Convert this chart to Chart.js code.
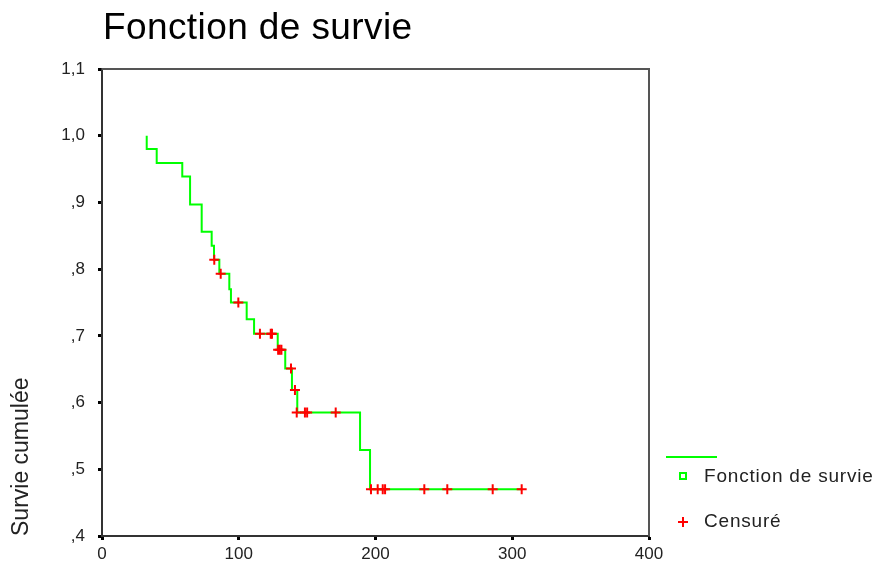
<!DOCTYPE html>
<html>
<head>
  <title>Fonction de survie</title>
  <script src="https://cdn.jsdelivr.net/npm/chart.js"></script>
  <style>
    body { margin: 0; overflow: hidden; background: #fff; }
    canvas { display: block; }
  </style>
</head>
<body>
  <canvas id="survie" width="879" height="565"></canvas>

  <script>
    // courbe de Kaplan-Meier (temps, survie cumulée)
    const curveTimes = [32.7, 32.7, 40.0, 58.7, 64.4, 72.9, 80.2, 81.9, 85.8, 93.1, 94.3, 105.8, 111.2, 128.5, 134.0, 138.9, 142.8, 188.7, 196.0, 306.9];
    const curveSurvival = [1.0, 0.980, 0.959, 0.939, 0.897, 0.856, 0.835, 0.814, 0.793, 0.770, 0.750, 0.725, 0.703, 0.679, 0.651, 0.619, 0.585, 0.529, 0.470, 0.470];

    // observations censurées
    const censorTimes = [82.1, 86.8, 99.7, 115.5, 123.4, 124.3, 128.8, 130.0, 131.2, 138.2, 141.1, 142.4, 148.4, 150.0, 170.9, 196.7, 201.6, 205.3, 207.0, 235.7, 252.5, 285.7, 306.9];
    const censorSurvival = [0.814, 0.793, 0.750, 0.703, 0.703, 0.703, 0.679, 0.679, 0.679, 0.651, 0.619, 0.585, 0.585, 0.585, 0.585, 0.470, 0.470, 0.470, 0.470, 0.470, 0.470, 0.470, 0.470];

    const labels = ['Fonction de survie', 'Censuré'];
    const titleText = 'Fonction de survie';
    const yTitle = 'Survie cumulée';

    const FONT = "'Liberation Sans', Arial, sans-serif";
    const GREEN = '#00ff00';
    const RED = '#ff0000';

    // titre, cadre et légende façon SPSS
    const decor = {
      id: 'decor',
      beforeDatasetsDraw(chart) {
        const { ctx, chartArea: a } = chart;
        ctx.save();
        ctx.strokeStyle = '#555';
        ctx.lineWidth = 2;
        ctx.beginPath();
        ctx.moveTo(a.left, a.top);
        ctx.lineTo(a.right, a.top);
        ctx.lineTo(a.right, a.bottom);
        ctx.stroke();
        ctx.restore();
      },
      afterDraw(chart) {
        const { ctx, chartArea: a } = chart;
        ctx.save();
        ctx.fillStyle = '#000';
        ctx.font = '37px ' + FONT;
        ctx.letterSpacing = '0.4px';
        ctx.textBaseline = 'alphabetic';
        ctx.textAlign = 'left';
        ctx.fillText(titleText, a.left + 1, 39);

        // légende
        ctx.strokeStyle = GREEN;
        ctx.lineWidth = 2;
        ctx.beginPath();
        ctx.moveTo(666, 457);
        ctx.lineTo(717, 457);
        ctx.stroke();
        ctx.strokeRect(680, 473, 6, 6);

        ctx.strokeStyle = RED;
        ctx.beginPath();
        ctx.moveTo(678, 522); ctx.lineTo(688, 522);
        ctx.moveTo(683, 517); ctx.lineTo(683, 527);
        ctx.stroke();

        ctx.fillStyle = '#222';
        ctx.font = '19px ' + FONT;
        ctx.letterSpacing = '0.8px';
        ctx.textBaseline = 'middle';
        ctx.fillText(labels[0], 704, 477);
        ctx.fillText(labels[1], 704, 522);
        ctx.restore();
      }
    };

    const fmt = v => {
      const r = Math.round(v * 10);
      return r >= 10 ? (r / 10).toFixed(1).replace('.', ',') : ',' + r;
    };

    new Chart(document.getElementById('survie'), {
      type: 'scatter',
      data: {
        datasets: [
          {
            label: labels[0],
            data: curveTimes.map((t, i) => ({ x: t, y: curveSurvival[i] })),
            showLine: true,
            stepped: true,
            borderColor: GREEN,
            borderWidth: 2,
            pointRadius: 0,
            order: 1
          },
          {
            label: labels[1],
            data: censorTimes.map((t, i) => ({ x: t, y: censorSurvival[i] })),
            pointStyle: 'cross',
            pointRadius: 5,
            borderColor: RED,
            borderWidth: 2,
            order: 0
          }
        ]
      },
      options: {
        responsive: false,
        animation: false,
        layout: { padding: { top: 69, right: 230, bottom: 0, left: 0 } },
        plugins: {
          legend: { display: false },
          tooltip: { enabled: false }
        },
        scales: {
          x: {
            type: 'linear',
            min: 0, max: 400,
            ticks: { stepSize: 100, color: '#222', font: { family: FONT, size: 17 }, padding: 4, maxRotation: 0 },
            grid: { drawOnChartArea: false, tickLength: 4, tickWidth: 3, tickColor: '#000' },
            border: { color: '#333', width: 2 },
            afterFit: s => { s.height = 29; }
          },
          y: {
            min: 0.4, max: 1.1,
            ticks: { stepSize: 0.1, color: '#222', font: { family: FONT, size: 17 }, padding: 13, callback: fmt },
            grid: { drawOnChartArea: false, tickLength: 4, tickWidth: 3, tickColor: '#000' },
            border: { color: '#333', width: 2 },
            title: { display: true, text: yTitle, align: 'start', color: '#222', font: { family: FONT, size: 23 }, padding: { top: 8, bottom: 0 } },
            afterFit: s => { s.width = 102; }
          }
        }
      },
      plugins: [decor]
    });
  </script>
</body>
</html>
